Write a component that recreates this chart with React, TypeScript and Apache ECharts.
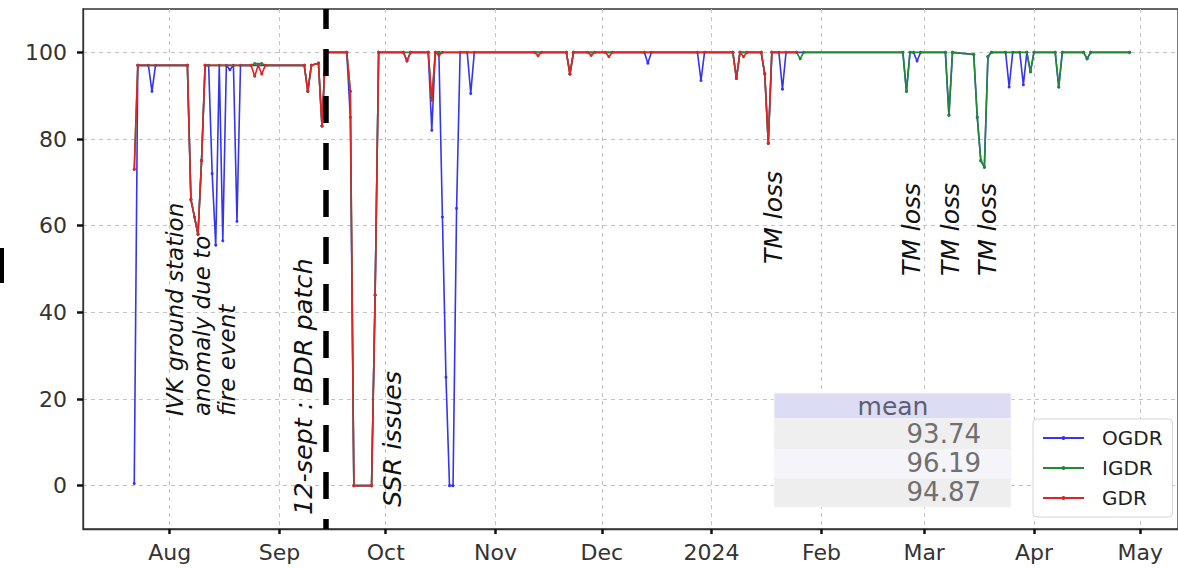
import React, { useEffect, useRef } from 'react';
import * as echarts from 'echarts';

// ---------- data ----------
const seriesNames = ['OGDR', 'IGDR', 'GDR'];
const seriesColors = ['#3434f2', '#1f8a30', '#e02424'];

const ogdr: [string, number][] = [
  ['2023-07-22', 0.5], ['2023-07-23', 97], ['2023-07-26', 97], ['2023-07-27', 91], ['2023-07-28', 97],
  ['2023-08-06', 97], ['2023-08-07', 66], ['2023-08-08', 62], ['2023-08-09', 58], ['2023-08-10', 75],
  ['2023-08-11', 97], ['2023-08-12', 97], ['2023-08-13', 72], ['2023-08-14', 55.5], ['2023-08-15', 97],
  ['2023-08-16', 56.5], ['2023-08-17', 97], ['2023-08-18', 96], ['2023-08-19', 97], ['2023-08-20', 61],
  ['2023-08-21', 97], ['2023-09-08', 97], ['2023-09-09', 91], ['2023-09-10', 97], ['2023-09-12', 97.5],
  ['2023-09-13', 83], ['2023-09-14', 100], ['2023-09-20', 100], ['2023-09-21', 85], ['2023-09-22', 0],
  ['2023-09-27', 0], ['2023-09-28', 44], ['2023-09-29', 100], ['2023-10-06', 100], ['2023-10-07', 98],
  ['2023-10-08', 100], ['2023-10-13', 100], ['2023-10-14', 82], ['2023-10-15', 100], ['2023-10-16', 100],
  ['2023-10-17', 62], ['2023-10-18', 25], ['2023-10-19', 0], ['2023-10-20', 0], ['2023-10-21', 64],
  ['2023-10-22', 100], ['2023-10-24', 100], ['2023-10-25', 90.5], ['2023-10-26', 100], ['2023-11-21', 100],
  ['2023-11-22', 95], ['2023-11-23', 100], ['2023-12-13', 100], ['2023-12-14', 97.5], ['2023-12-15', 100],
  ['2023-12-28', 100], ['2023-12-29', 93.5], ['2023-12-30', 100], ['2024-01-07', 100], ['2024-01-08', 94],
  ['2024-01-09', 100], ['2024-01-15', 100], ['2024-01-16', 95], ['2024-01-17', 79], ['2024-01-18', 100],
  ['2024-01-20', 100], ['2024-01-21', 91.5], ['2024-01-22', 100], ['2024-02-24', 100], ['2024-02-25', 91],
  ['2024-02-26', 100], ['2024-02-27', 100], ['2024-02-28', 98], ['2024-02-29', 100], ['2024-03-07', 100],
  ['2024-03-08', 85.5], ['2024-03-09', 100], ['2024-03-15', 99.5], ['2024-03-16', 85], ['2024-03-17', 75],
  ['2024-03-18', 73.5], ['2024-03-19', 99], ['2024-03-20', 100], ['2024-03-24', 100], ['2024-03-25', 92],
  ['2024-03-26', 100], ['2024-03-28', 100], ['2024-03-29', 92.5], ['2024-03-30', 100], ['2024-03-31', 95.5],
  ['2024-04-01', 100], ['2024-04-07', 100], ['2024-04-08', 92], ['2024-04-09', 100], ['2024-04-15', 100],
  ['2024-04-16', 98.5], ['2024-04-17', 100], ['2024-04-28', 100],
];

const igdr: [string, number][] = [
  ['2023-07-22', 73], ['2023-07-23', 97], ['2023-08-06', 97], ['2023-08-07', 66], ['2023-08-08', 62],
  ['2023-08-09', 58], ['2023-08-10', 75], ['2023-08-11', 97], ['2023-08-24', 97], ['2023-08-25', 97.4],
  ['2023-08-27', 97.4], ['2023-08-28', 97], ['2023-09-08', 97], ['2023-09-09', 91], ['2023-09-10', 97],
  ['2023-09-12', 97.5], ['2023-09-13', 83], ['2023-09-14', 100], ['2023-09-20', 100], ['2023-09-21', 91],
  ['2023-09-22', 0], ['2023-09-27', 0], ['2023-09-28', 44], ['2023-09-29', 100], ['2023-10-13', 100],
  ['2023-10-14', 89], ['2023-10-15', 100], ['2023-11-21', 100], ['2023-11-22', 95], ['2023-11-23', 100],
  ['2024-01-07', 100], ['2024-01-08', 94], ['2024-01-09', 100], ['2024-01-15', 100], ['2024-01-16', 95],
  ['2024-01-17', 79], ['2024-01-18', 100], ['2024-01-25', 100], ['2024-01-26', 98.5], ['2024-01-27', 100],
  ['2024-02-24', 100], ['2024-02-25', 91], ['2024-02-26', 100], ['2024-03-07', 100], ['2024-03-08', 85.5],
  ['2024-03-09', 100], ['2024-03-15', 99.5], ['2024-03-16', 85], ['2024-03-17', 75], ['2024-03-18', 73.5],
  ['2024-03-19', 99], ['2024-03-20', 100], ['2024-03-30', 100], ['2024-03-31', 95.5], ['2024-04-01', 100],
  ['2024-04-07', 100], ['2024-04-08', 92], ['2024-04-09', 100], ['2024-04-15', 100], ['2024-04-16', 98.5],
  ['2024-04-17', 100], ['2024-04-28', 100],
];

const gdr: [string, number][] = [
  ['2023-07-22', 73], ['2023-07-23', 97], ['2023-08-06', 97], ['2023-08-07', 66], ['2023-08-08', 62],
  ['2023-08-09', 58], ['2023-08-10', 75], ['2023-08-11', 97], ['2023-08-24', 97], ['2023-08-25', 94.5],
  ['2023-08-26', 97], ['2023-08-27', 95], ['2023-08-28', 97], ['2023-09-08', 97], ['2023-09-09', 91],
  ['2023-09-10', 97], ['2023-09-12', 97.5], ['2023-09-13', 83], ['2023-09-14', 100], ['2023-09-20', 100],
  ['2023-09-21', 91], ['2023-09-22', 0], ['2023-09-27', 0], ['2023-09-28', 44], ['2023-09-29', 100],
  ['2023-10-06', 100], ['2023-10-07', 98], ['2023-10-08', 100], ['2023-10-13', 100], ['2023-10-14', 89],
  ['2023-10-15', 100], ['2023-10-16', 99.3], ['2023-10-17', 100], ['2023-11-12', 100], ['2023-11-13', 99.2],
  ['2023-11-14', 100], ['2023-11-21', 100], ['2023-11-22', 95], ['2023-11-23', 100], ['2023-11-27', 100],
  ['2023-11-28', 99.3], ['2023-11-29', 100], ['2023-12-02', 100], ['2023-12-03', 99], ['2023-12-04', 100],
  ['2024-01-07', 100], ['2024-01-08', 94], ['2024-01-09', 100], ['2024-01-10', 99], ['2024-01-11', 100],
  ['2024-01-15', 100], ['2024-01-16', 95], ['2024-01-17', 79], ['2024-01-18', 100], ['2024-01-25', 100],
];

const xTickDates = ['2023-08-01', '2023-09-01', '2023-10-01', '2023-11-01', '2023-12-01', '2024-01-01', '2024-02-01', '2024-03-01', '2024-04-01', '2024-05-01'];
const xTickLabels = ['Aug', 'Sep', 'Oct', 'Nov', 'Dec', '2024', 'Feb', 'Mar', 'Apr', 'May'];
const yTicks = [0, 20, 40, 60, 80, 100];
const xMin = '2023-07-07T12:45';
const xMax = '2024-05-11T16:00';
const yMin = -10;
const yMax = 110;

const patchDate = '2023-09-14T04:00';
const meanHeader = 'mean';
const meanValues = ['93.74', '96.19', '94.87'];

const annotations = [
  { text: 'IVK ground station', x: 175, y: 416, size: 23 },
  { text: 'anomaly due to', x: 202, y: 416, size: 23 },
  { text: 'fire event', x: 227, y: 416, size: 23 },
  { text: '12-sept : BDR patch', x: 303, y: 515, size: 25.5 },
  { text: 'SSR issues', x: 392, y: 507, size: 25.5 },
  { text: 'TM loss', x: 773, y: 264, size: 25 },
  { text: 'TM loss', x: 911, y: 276, size: 25 },
  { text: 'TM loss', x: 950, y: 276, size: 25 },
  { text: 'TM loss', x: 987, y: 276, size: 25 },
];

// ---------- helpers ----------
const toTs = (s: string) => {
  const [d, t] = s.split('T');
  const [y, m, dd] = d.split('-').map(Number);
  let h = 0, mi = 0;
  if (t) { const p = t.split(':').map(Number); h = p[0]; mi = p[1]; }
  return new Date(y, m - 1, dd, h, mi).getTime();
};
const xTickTs = xTickDates.map(toTs);
const FONT = '"DejaVu Sans", sans-serif';

export default function App() {
  const ref = useRef<HTMLDivElement>(null);
  useEffect(() => {
    if (!ref.current) return;
    const chart = echarts.init(ref.current, undefined, { renderer: 'svg' });
    const allData = [ogdr, igdr, gdr];
    const patchTs = toTs(patchDate);

    const graphic: any[] = [
      { type: 'rect', shape: { x: 0, y: 248, width: 4, height: 35 }, style: { fill: '#000' }, z: 100 },
    ];
    annotations.forEach((a) => {
      graphic.push({
        type: 'text', x: a.x, y: a.y, rotation: Math.PI / 2, z: 100,
        style: {
          text: a.text, font: `italic ${a.size}px ${FONT}`, fill: '#111',
          align: 'left', verticalAlign: 'middle', textAlign: 'left', textVerticalAlign: 'middle',
        },
      });
    });
    // mean table
    const rows = [
      { y: 393, h: 26, fill: '#dcdcf5' },
      { y: 419, h: 31, fill: '#efefef' },
      { y: 450, h: 28, fill: '#f4f4f9' },
      { y: 478, h: 29, fill: '#eeeeee' },
    ];
    rows.forEach((r) => {
      graphic.push({ type: 'rect', shape: { x: 774, y: r.y, width: 237, height: r.h }, style: { fill: r.fill, stroke: '#f6f6fb', lineWidth: 1 }, z: 90 });
    });
    graphic.push({
      type: 'text', x: 893, y: 406, z: 95,
      style: { text: meanHeader, font: `25px ${FONT}`, fill: '#5e5e70', align: 'center', verticalAlign: 'middle', textAlign: 'center', textVerticalAlign: 'middle' },
    });
    meanValues.forEach((v, i) => {
      graphic.push({
        type: 'text', x: 981, y: [434, 463, 492][i], z: 95,
        style: { text: v, font: `26px ${FONT}`, fill: '#707070', align: 'right', verticalAlign: 'middle', textAlign: 'right', textVerticalAlign: 'middle' },
      });
    });

    const series: any[] = allData.map((d, i) => ({
      name: seriesNames[i],
      type: 'line',
      data: d.map(([t, v]) => [toTs(t), v]),
      symbol: 'circle',
      symbolSize: 3,
      showSymbol: true,
      lineStyle: { color: seriesColors[i], width: 1.6 },
      itemStyle: { color: seriesColors[i] },
      emphasis: { disabled: true },
      z: 2 + i,
    }));
    series.push({
      name: 'patch',
      type: 'line',
      data: [],
      z: 10,
      silent: true,
      markLine: {
        silent: true,
        symbol: ['none', 'none'],
        label: { show: false },
        lineStyle: { color: '#000', width: 5.5, type: [27, 20], dashOffset: 17 },
        data: [[{ coord: [patchTs, yMin] }, { coord: [patchTs, yMax] }]],
      },
    });

    chart.setOption({
      animation: false,
      backgroundColor: '#fff',
      grid: { left: 83, top: 9, width: 1099, height: 520, show: true, borderColor: '#333', borderWidth: 1.3, backgroundColor: 'transparent' },
      legend: {
        data: seriesNames, orient: 'vertical', left: 1033, top: 419,
        padding: [8, 10, 8, 9], itemGap: 8, itemWidth: 41, itemHeight: 5,
        backgroundColor: '#fff', borderColor: '#d4d4d4', borderWidth: 1, borderRadius: 4,
        textStyle: { fontFamily: FONT, fontSize: 20, color: '#222', padding: [0, 0, 0, 13], lineHeight: 22 },
        z: 80,
      },
      xAxis: {
        type: 'value', min: toTs(xMin), max: toTs(xMax),
        axisLine: { show: true, onZero: false, lineStyle: { color: '#333', width: 1.3 } },
        axisTick: { show: true, length: 5, customValues: xTickTs, lineStyle: { color: '#111', width: 2.5 } },
        axisLabel: {
          customValues: xTickTs, margin: 12, fontFamily: FONT, fontSize: 22, color: '#333',
          formatter: (v: number) => {
            let best = -1, bd = Infinity;
            xTickTs.forEach((t, i) => { const dd = Math.abs(t - v); if (dd < bd) { bd = dd; best = i; } });
            return bd < 86400000 ? xTickLabels[best] : '';
          },
        },
        splitLine: { show: true, lineStyle: { color: '#c4c4c4', type: [4, 4], width: 1 } },
      },
      yAxis: {
        type: 'value', min: yMin, max: yMax, splitNumber: 6,
        axisLine: { show: true, onZero: false, lineStyle: { color: '#333', width: 1.3 } },
        axisTick: { show: true, length: 6, customValues: yTicks, lineStyle: { color: '#111', width: 2.5 } },
        axisLabel: { customValues: yTicks, margin: 16, fontFamily: FONT, fontSize: 22, color: '#333' },
        splitLine: { show: true, lineStyle: { color: '#c4c4c4', type: [4, 4], width: 1 } },
      },
      series,
      graphic,
    });
    return () => chart.dispose();
  }, []);
  return <div ref={ref} style={{ position: 'fixed', left: 0, top: 0, width: 1178, height: 568 }} />;
}
